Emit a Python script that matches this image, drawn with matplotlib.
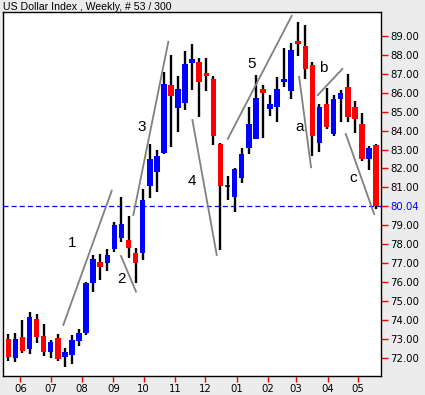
import numpy as np
import matplotlib.pyplot as plt
from matplotlib.patches import Rectangle

# weekly candles, first week 2008-05-20
first_week = np.datetime64('2008-05-20')
opens = [72.99, 72.00, 73.08, 72.44, 74.03, 73.15, 72.32, 73.03, 72.05, 72.13,
         72.90, 73.32, 75.96, 77.06, 77.02, 77.73, 78.31, 78.22, 77.55, 77.52,
         81.09, 81.83, 82.80, 86.41, 85.21, 85.48, 87.59, 87.61, 87.06, 86.73,
         83.29, 81.09, 80.51, 81.51, 83.07, 83.54, 86.20, 85.14, 85.23, 86.59,
         86.11, 88.74, 88.47, 87.47, 83.36, 85.39, 83.82, 85.67, 86.31, 85.23,
         84.35, 82.49, 83.24]
highs = [73.25, 73.29, 73.99, 74.42, 74.29, 73.78, 72.94, 73.24, 72.50, 73.18,
         73.52, 76.02, 77.43, 77.48, 77.73, 79.19, 80.51, 79.49, 77.78, 80.90,
         83.29, 82.98, 87.12, 88.00, 86.89, 88.22, 88.58, 87.82, 87.82, 86.89,
         83.33, 81.62, 82.04, 83.07, 85.27, 86.94, 86.41, 85.88, 86.82, 88.35,
         88.62, 89.73, 89.58, 87.64, 85.41, 86.24, 85.88, 86.15, 86.99, 85.58,
         84.95, 83.19, 83.28]
lows = [71.84, 71.79, 72.23, 72.18, 72.79, 72.09, 72.00, 71.83, 71.52, 71.68,
        72.63, 73.20, 75.49, 76.08, 76.60, 77.60, 78.13, 77.29, 75.93, 77.16,
        80.42, 80.77, 82.77, 83.15, 83.94, 85.09, 86.15, 84.70, 86.11, 83.24,
        77.69, 80.33, 79.68, 81.22, 82.77, 83.54, 83.60, 84.77, 84.47, 86.29,
        85.66, 87.94, 86.73, 82.68, 82.89, 84.07, 83.73, 84.47, 84.47, 83.89,
        82.40, 81.92, 79.84]
closes = [72.05, 72.99, 72.37, 74.14, 73.11, 72.32, 72.81, 71.92, 72.32, 72.94,
          73.29, 75.96, 77.20, 76.77, 77.43, 79.01, 79.05, 77.78, 76.99, 80.33,
          82.50, 82.66, 86.47, 85.85, 86.20, 87.52, 87.77, 86.59, 86.90, 83.72,
          81.09, 81.09, 81.97, 82.77, 84.35, 85.71, 86.00, 85.41, 86.20, 86.73,
          88.26, 88.60, 87.26, 83.73, 85.23, 84.18, 85.66, 85.97, 84.74, 84.60,
          82.49, 83.10, 80.04]
last_price = 80.04
price_ticks = [72, 73, 74, 75, 76, 77, 78, 79, 81, 82, 83, 84, 85, 86, 87, 88, 89]

month_starts = ['2008-06-01', '2008-07-01', '2008-08-01', '2008-09-01', '2008-10-01',
                '2008-11-01', '2008-12-01', '2009-01-01', '2009-02-01', '2009-03-01',
                '2009-04-01', '2009-05-01']
month_labels = ['06', '07', '08', '09', '10', '11', '12', '01', '02', '03', '04', '05']

# elliott wave count: (week, price) start and end
wave_starts = [(7.78, 73.73), (15.94, 77.37), (17.68, 79.54), (26.03, 84.56),
               (31.03, 83.56), (41.12, 86.85), (43.76, 85.88), (47.72, 83.82)]
wave_ends = [(14.63, 80.83), (18.06, 75.49), (22.63, 88.70), (29.47, 77.43),
             (40.08, 90.07), (42.81, 82.06), (47.24, 87.26), (51.73, 79.59)]
wave_names = ['1', '2', '3', '4', '5', 'a', 'b', 'c']
wave_label_pos = [(9.05, 78.05), (16.05, 76.14), (18.87, 84.21), (25.94, 81.35),
                  (34.43, 87.52), (41.26, 84.21), (44.55, 87.29), (48.71, 81.48)]

bg = '#ececec'
fig = plt.figure(figsize=(4.25, 3.95), dpi=100, facecolor=bg)
ax = fig.add_axes([3/425, 1 - 376/395, 378/425, 364/395])
ax.set_facecolor('white')

# candles
w = 0.78
for i in range(len(opens)):
    o, h, l, c = opens[i], highs[i], lows[i], closes[i]
    ax.plot([i, i], [l, h], color='black', lw=1.7, solid_capstyle='butt', zorder=2)
    if c > o:
        ax.add_patch(Rectangle((i - w/2, o), w, c - o, color='#0000ff', lw=0, zorder=3))
    elif c < o:
        ax.add_patch(Rectangle((i - w/2, c), w, o - c, color='#ff0000', lw=0, zorder=3))
    else:
        ax.plot([i - w/3, i + w/3], [o, o], color='black', lw=1.2, zorder=3)

# wave lines and labels
for s, e in zip(wave_starts, wave_ends):
    ax.plot([s[0], e[0]], [s[1], e[1]], color='#808080', lw=1.3, zorder=4)
for name, (x, y) in zip(wave_names, wave_label_pos):
    ax.text(x, y, name, fontsize=11, family='Liberation Sans', ha='center', va='center', zorder=5)

ax.axhline(last_price, color='#0000ff', lw=0.9, dashes=(4, 2.5), zorder=1)

ax.set_xlim(-0.75, 52.7)
ax.set_ylim(71.03, 90.27)

# axes styling
ax.yaxis.tick_right()
yt = price_ticks + [last_price]
ax.set_yticks(yt)
ax.set_yticklabels(['%.2f' % v for v in yt])
ax.tick_params(axis='y', colors='red', labelcolor='black', length=5, width=1, pad=1.5, labelsize=7.3)
for t in ax.yaxis.get_major_ticks():
    if abs(t.get_loc() - last_price) < 0.001:
        t.tick2line.set_color('#0000ff')
        t.label2.set_color('#0000ff')

xt = [(np.datetime64(m) - first_week).astype(int) / 7.0 for m in month_starts]
ax.set_xticks(xt)
ax.set_xticklabels(month_labels)
ax.tick_params(axis='x', colors='red', labelcolor='black', length=4, width=1, pad=2, labelsize=7.3)

for sp in ax.spines.values():
    sp.set_color('black')
    sp.set_linewidth(1)

fig.text(3/425, 1 - 7/395, 'US Dollar Index , Weekly, # 53 / 300', fontsize=7.6,
         family='Liberation Sans', ha='left', va='center')

fig.savefig('out.png', dpi=100, facecolor=bg)
